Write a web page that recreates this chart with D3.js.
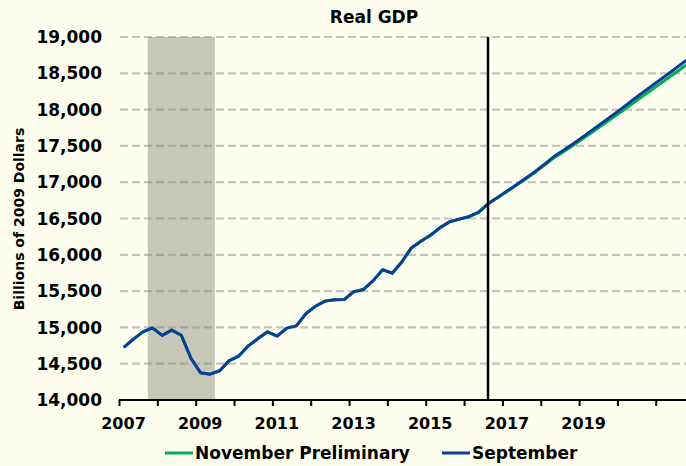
<!DOCTYPE html>
<html>
<head>
<meta charset="utf-8">
<script src="https://cdn.jsdelivr.net/npm/d3@7"></script>
<style>
  html, body { margin: 0; padding: 0; background: #fefeee; }
  svg { display: block; font-family: "DejaVu Sans", Verdana, sans-serif; font-weight: bold; }
</style>
</head>
<body>
<svg class="chart"></svg>
<script>
const width = 686,
      height = 466,
      margin = { top: 37, right: 0, bottom: 66, left: 119 }

// quarterly, 2007Q1 .. 2016Q2 (common to both vintages)
const history = [14726, 14839, 14939, 14992, 14890, 14963, 14892, 14577, 14375, 14356,
                 14403, 14542, 14605, 14746, 14846, 14939, 14881, 14990, 15021, 15190,
                 15291, 15362, 15381, 15384, 15492, 15522, 15641, 15794, 15747, 15901,
                 16095, 16187, 16269, 16374, 16455, 16491, 16525, 16583]

// 2016Q3 .. 2021Q4
const septForecast = [16702, 16790, 16878, 16968, 17060, 17155, 17260, 17365, 17450, 17540,
                      17635, 17730, 17825, 17922, 18020, 18122, 18222, 18318, 18415, 18512,
                      18610, 18710]
const novForecast = [16702, 16788, 16874, 16962, 17052, 17145, 17246, 17348, 17430, 17518,
                     17610, 17702, 17793, 17886, 17980, 18078, 18174, 18266, 18360, 18455,
                     18550, 18648]

const yTicks = [14000, 14500, 15000, 15500, 16000, 16500, 17000, 17500, 18000, 18500, 19000]
const yearTicks = [2007, 2008, 2009, 2010, 2011, 2012, 2013, 2014, 2015, 2016, 2017, 2018, 2019, 2020, 2021]
const yearLabels = [2007, 2009, 2011, 2013, 2015, 2017, 2019]
const recession = [2007.75, 2009.5]
const forecastStart = 2016.625

const series = [
  { name: "November Preliminary", color: "#00b050", values: history.concat(novForecast) },
  { name: "September", color: "#0a3d9c", values: history.concat(septForecast) }
]

// centre of each quarter in fractional years
const quarterX = (i) => 2007 + (i + 0.5) / 4

const x = d3.scaleLinear()
  .domain([2007, 2022])
  .range([margin.left, margin.left + 15 * 38.34])

const y = d3.scaleLinear()
  .domain([14000, 19000])
  .range([height - margin.bottom, margin.top])

const chart = d3.select(".chart")
  .attr("width", width)
  .attr("height", height)

chart.append("rect")
  .attr("width", width)
  .attr("height", height)
  .attr("fill", "#fefeee")

// recession band
chart.append("rect")
  .attr("x", x(recession[0]))
  .attr("y", y(19000))
  .attr("width", x(recession[1]) - x(recession[0]))
  .attr("height", y(14000) - y(19000))
  .attr("fill", "#c8c8b9")

// dashed gridlines
chart.append("g")
  .selectAll("line")
  .data(yTicks.filter((d) => d > 14000))
  .enter()
  .append("line")
    .attr("x1", margin.left + 1)
    .attr("x2", width)
    .attr("y1", (d) => y(d))
    .attr("y2", (d) => y(d))
    .attr("stroke", "#8a8a8a")
    .attr("stroke-opacity", 0.5)
    .attr("stroke-width", 2.2)
    .attr("stroke-dasharray", "8,4")

// y tick labels
chart.append("g")
  .selectAll("text")
  .data(yTicks)
  .enter()
  .append("text")
    .attr("x", 102)
    .attr("y", (d) => y(d))
    .attr("dy", "0.36em")
    .attr("text-anchor", "end")
    .style("font-size", "17px")
    .text(d3.format(","))

// x axis
const xAxis = chart.append("g")
  .attr("transform", `translate(0,${y(14000)})`)
  .call(d3.axisBottom(x).tickValues(yearTicks).tickSize(6).tickFormat(""))

xAxis.select(".domain")
  .attr("d", `M${x(2007)},0H${width}`)
  .attr("stroke", "#000")
  .attr("stroke-width", 2)
xAxis.selectAll(".tick line").attr("stroke", "#000").attr("stroke-width", 2)

chart.append("g")
  .selectAll("text")
  .data(yearLabels)
  .enter()
  .append("text")
    .attr("x", (d) => x(d) + 4.5)
    .attr("y", y(14000) + 29)
    .attr("text-anchor", "middle")
    .style("font-size", "16px")
    .text((d) => d)

// lines
const line = d3.line()
  .x((d, i) => x(quarterX(i)))
  .y((d) => y(d))

chart.append("g")
  .selectAll("path")
  .data(series)
  .enter()
  .append("path")
    .attr("d", (d) => line(d.values))
    .attr("fill", "none")
    .attr("stroke", (d) => d.color)
    .attr("stroke-width", 3)
    .attr("stroke-linejoin", "round")

// forecast divider
chart.append("line")
  .attr("x1", x(forecastStart))
  .attr("x2", x(forecastStart))
  .attr("y1", y(19000))
  .attr("y2", y(14000))
  .attr("stroke", "#000")
  .attr("stroke-width", 2.5)

// title
chart.append("text")
  .attr("x", 374)
  .attr("y", 23)
  .attr("text-anchor", "middle")
  .style("font-size", "17px")
  .text("Real GDP")

chart.append("text")
  .attr("transform", `translate(24,219) rotate(-90)`)
  .attr("text-anchor", "middle")
  .style("font-size", "14px")
  .text("Billions of 2009 Dollars")

// legend
const legendPos = [165, 442]
const legend = chart.append("g")
  .selectAll("g")
  .data(series)
  .enter()
  .append("g")
    .attr("transform", (d, i) => `translate(${legendPos[i]},453)`)

legend.append("line")
  .attr("x1", 0)
  .attr("x2", 28)
  .attr("stroke", (d) => d.color)
  .attr("stroke-width", 3)

legend.append("text")
  .attr("x", 30)
  .attr("y", 6)
  .style("font-size", "17px")
  .text((d) => d.name)
</script>
</body>
</html>
